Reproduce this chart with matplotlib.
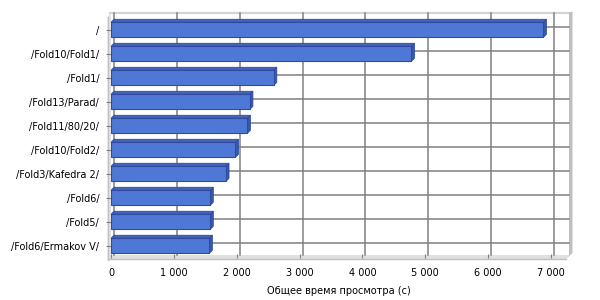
import matplotlib
matplotlib.use('Agg')
import matplotlib.pyplot as plt
from matplotlib.patches import Polygon
from matplotlib.transforms import IdentityTransform
import numpy as np

categories = ['/', '/Fold10/Fold1/', '/Fold1/', '/Fold13/Parad/', '/Fold11/80/20/',
              '/Fold10/Fold2/', '/Fold3/Kafedra 2/', '/Fold6/', '/Fold5/', '/Fold6/Ermakov V/']
values = [6880, 4780, 2590, 2210, 2170, 1980, 1830, 1580, 1580, 1565]
xticks = [0, 1000, 2000, 3000, 4000, 5000, 6000, 7000]
xtick_labels = ['0', '1 000', '2 000', '3 000', '4 000', '5 000', '6 000', '7 000']
xlabel = 'Общее время просмотра (с)'

W, H = 600, 300
fig = plt.figure(figsize=(6, 3), dpi=100)
fig.patch.set_facecolor('white')
L, R, T, B = 111, 566, 16, 258
D = 3  # depth offset in px
ax = fig.add_axes([L / W, (H - B) / H, (R - L) / W, (B - T) / H])
ax.set_facecolor('none')
for s in ax.spines.values():
    s.set_visible(False)
ypos = np.arange(len(categories))
ax.set_xlim(0, 7240)
ax.set_ylim(9.51, -0.575)

ID = IdentityTransform()


def P(pts, **kw):
    pts = [(x, H - y) for x, y in pts]
    p = Polygon(pts, closed=True, transform=ID, clip_on=False, **kw)
    ax.add_artist(p)
    return p


# back wall
P([(L + D, T - D), (R + D, T - D), (R + D, B - D), (L + D, B - D)], facecolor='white',
  edgecolor='none', zorder=0)
# left wall
P([(L - 3.5, T + 1), (L, T - D), (L, B - D), (L - 3.5, B + 1)], facecolor='#e4e4e4',
  edgecolor='none', zorder=0.5)
ax.plot([L - 3.5, L - 3.5], [H - (T + 1), H - (B + 2)], transform=ID, color='#c0c0c0',
        lw=1.0, clip_on=False, zorder=0.6)
# floor
P([(L - 3.5, B + 1), (L, B - D), (R + D, B - D), (R, B + 1)], facecolor='#e0e0e0',
  edgecolor='none', zorder=0.5)
ax.plot([L - 3.5, R], [H - (B + 1), H - (B + 1)], transform=ID, color='#c0c0c0', lw=1.0,
        clip_on=False, zorder=0.6)
# top border and right wall
ax.plot([L - 1, R + D + 2], [H - (T - D - 0.5), H - (T - D - 0.5)], transform=ID,
        color='#d4d4d4', lw=1.6, clip_on=False, zorder=0.7)
P([(R + D, T - D - 1), (R + D + 3.5, T - D - 1), (R + D + 3.5, B - D - 2), (R, B + 1),
   (R + D, B - D)], facecolor='#c0c0c0', edgecolor='none', zorder=0.7)

# gridlines on back wall
to_px = ax.transData.transform
for xv in xticks:
    x = to_px((xv, 0))[0] + D
    ax.plot([x, x], [H - (T - D), H - (B - D)], transform=ID, color='#808080', lw=1.1,
            clip_on=False, zorder=0.8)
for yv in ypos:
    y = to_px((0, yv))[1] + D
    ax.plot([L + D, R + D], [y, y], transform=ID, color='#808080', lw=1.1,
            clip_on=False, zorder=0.8)

# bars
h = 0.625
bars = ax.barh(ypos, values, height=h, color='#4f78d6', edgecolor='#2f4c9c',
               linewidth=0.8, zorder=3)
for b in bars:
    x0, y0 = to_px((b.get_x(), b.get_y()))
    x1, y1 = to_px((b.get_x() + b.get_width(), b.get_y() + b.get_height()))
    ytop = max(y0, y1)
    ybot = min(y0, y1)
    # top face (display coords, y up)
    ax.add_artist(Polygon([(x0, ytop), (x1, ytop), (x1 + D, ytop + D), (x0 + D, ytop + D)],
                          closed=True, transform=ID, clip_on=False, facecolor='#4262bd',
                          edgecolor='#2f4c9c', linewidth=0.6, zorder=2.9))
    ax.add_artist(Polygon([(x1, ytop), (x1 + D, ytop + D), (x1 + D, ybot + D), (x1, ybot)],
                          closed=True, transform=ID, clip_on=False, facecolor='#3a58aa',
                          edgecolor='#2f4c9c', linewidth=0.6, zorder=2.9))

ax.set_yticks(ypos)
ax.set_yticklabels(categories, fontsize=7, color='black')
ax.tick_params(axis='y', length=3.5, width=0.8, color='#808080', pad=5)
ax.set_xticks(xticks)
ax.set_xticklabels(xtick_labels, fontsize=7, color='black')
ax.tick_params(axis='x', direction='in', length=3, width=0.8, color='#808080', pad=7)
ax.set_xlabel(xlabel, fontsize=7, labelpad=6)

fig.savefig('out.png', dpi=100, facecolor='white')
